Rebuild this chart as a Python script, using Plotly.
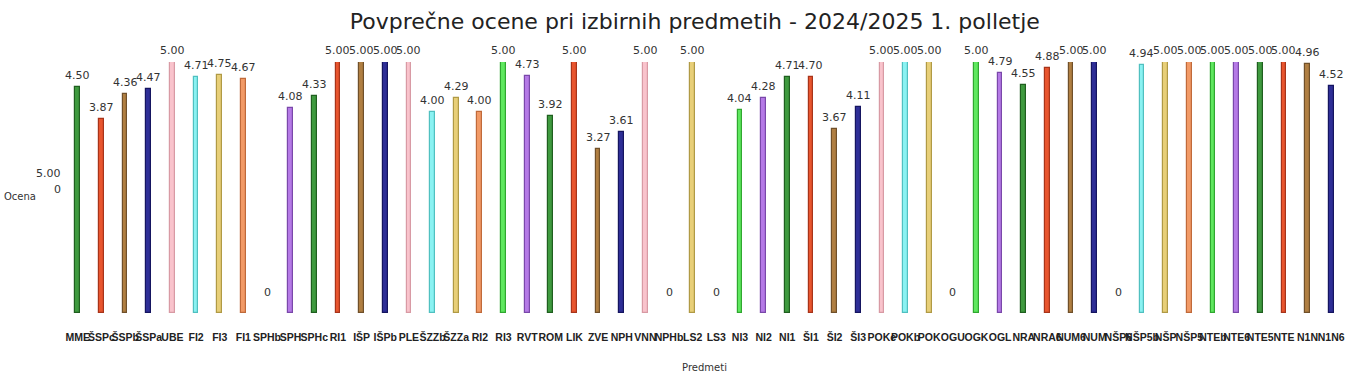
import plotly.graph_objects as go

categories = ["MME", "ŠSPc", "ŠSPb", "ŠSPa", "UBE", "FI2", "FI3", "FI1", "SPHb", "SPH",
              "SPHc", "RI1", "IŠP", "IŠPb", "PLE", "ŠZZb", "ŠZZa", "RI2", "RI3", "RVT",
              "ROM", "LIK", "ZVE", "NPH", "VNN", "NPHb", "LS2", "LS3", "NI3", "NI2",
              "NI1", "ŠI1", "ŠI2", "ŠI3", "POKc", "POKb", "POK", "OGU", "OGK", "OGL",
              "NRA", "NRA6", "NUM6", "NUM", "NŠP6", "NŠP5b", "NŠP", "NŠP5", "NTEb", "NTE6",
              "NTE5", "NTE", "N1N", "N1N6"]
values = [4.50, 3.87, 4.36, 4.47, 5.00, 4.71, 4.75, 4.67, 0, 4.08,
          4.33, 5.00, 5.00, 5.00, 5.00, 4.00, 4.29, 4.00, 5.00, 4.73,
          3.92, 5.00, 3.27, 3.61, 5.00, 0, 5.00, 0, 4.04, 4.28,
          4.71, 4.70, 3.67, 4.11, 5.00, 5.00, 5.00, 0, 5.00, 4.79,
          4.55, 4.88, 5.00, 5.00, 0, 4.94, 5.00, 5.00, 5.00, 5.00,
          5.00, 5.00, 4.96, 4.52]
palette_fill = ["#3f9a3f", "#e8552e", "#b07f42", "#2e2e96", "#f9c3cc",
                "#8af2f2", "#e8cf78", "#f29a66", "#5fe85f", "#b57ae6"]
palette_edge = ["#1f5f1f", "#a8341a", "#70502a", "#151560", "#d89aa4",
                "#50c0c0", "#b09a45", "#c06a3a", "#30a830", "#7a48aa"]

fills = [palette_fill[i % 10] for i in range(len(categories))]
edges = [palette_edge[i % 10] for i in range(len(categories))]
edge_w = [1.2 if v > 0 else 0 for v in values]

fig = go.Figure()
fig.add_trace(go.Bar(
    x=categories, y=values, width=0.2,
    marker=dict(color=fills, line=dict(color=edges, width=edge_w)),
    hoverinfo="x+y",
))

for c, v in zip(categories, values):
    fig.add_annotation(x=c, y=v, text=("%.2f" % v) if v > 0 else "0",
                       showarrow=False, yanchor="bottom", yshift=3 if v > 0 else 12,
                       font=dict(family="DejaVu Sans, Verdana, sans-serif", size=11, color="#333333"))

fig.add_annotation(xref="paper", yref="paper", x=-0.002, y=(387 - 74 - 173) / (387 - 62 - 74),
                   text="5.00", showarrow=False, xanchor="right", yanchor="middle",
                   font=dict(family="DejaVu Sans, Verdana, sans-serif", size=11, color="#333333"))
fig.add_annotation(xref="paper", yref="paper", x=-0.002, y=(387 - 74 - 189) / (387 - 62 - 74),
                   text="0", showarrow=False, xanchor="right", yanchor="middle",
                   font=dict(family="DejaVu Sans, Verdana, sans-serif", size=11, color="#333333"))
fig.add_annotation(xref="paper", yref="paper", x=-0.022, y=(387 - 74 - 196) / (387 - 62 - 74),
                   text="Ocena", showarrow=False, xanchor="right", yanchor="middle",
                   font=dict(family="DejaVu Sans, Verdana, sans-serif", size=10, color="#333333"))

fig.update_layout(
    width=1357, height=387,
    margin=dict(l=66, r=12, t=62, b=74),
    paper_bgcolor="white", plot_bgcolor="white",
    title=dict(text="Povprečne ocene pri izbirnih predmetih - 2024/2025 1. polletje",
               x=0.512, xanchor="center", y=0.945, yanchor="middle",
               font=dict(family="DejaVu Sans, Verdana, sans-serif", size=22, color="#222222")),
    showlegend=False,
    bargap=0,
    xaxis=dict(type="category", range=[-0.5, len(categories) - 0.5], tickangle=0,
               showgrid=False, showline=False, zeroline=False, ticks="",
               ticklabelstandoff=16,
               tickfont=dict(family="Liberation Sans, Arial, sans-serif", size=10.5, color="#222222",
                             weight="bold"),
               title=dict(text="Predmeti", standoff=22,
                          font=dict(family="DejaVu Sans, Verdana, sans-serif", size=10, color="#333333"))),
    yaxis=dict(range=[0, 5], showgrid=False, showline=False, zeroline=False,
               showticklabels=False, ticks=""),
)

fig.write_html("out.html")
